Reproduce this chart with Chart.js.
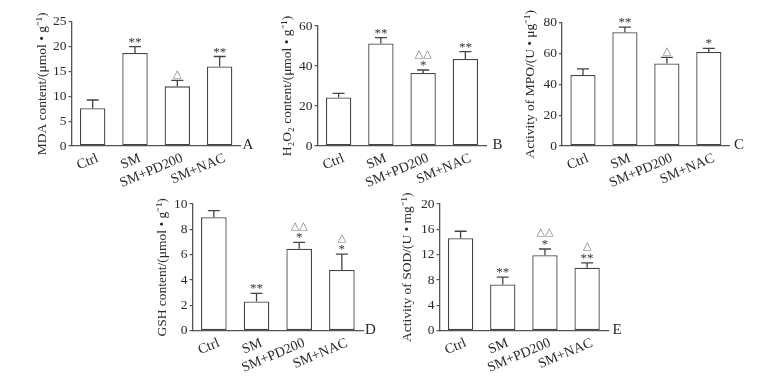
<!DOCTYPE html>
<html>
<head>
<meta charset="utf-8">
<script src="https://cdn.jsdelivr.net/npm/chart.js@4.4.0/dist/chart.umd.min.js"></script>
<style>
  body { margin: 0; background: #fff; }
  #wrap { position: relative; width: 771px; height: 382px; }
  #wrap canvas { position: absolute; left: 0; top: 0; }
</style>
</head>
<body>
<div id="wrap"></div>
<script>
// groups on every x axis
const groups = ['Ctrl', 'SM', 'SM+PD200', 'SM+NAC'];

// A - MDA
const mdaMean = [7.6, 18.7, 12.0, 16.0];
const mdaErr = [1.65, 1.3, 1.2, 2.0];
const mdaMarks = [[], ['**'], ['△'], ['**']];
const mdaTicks = [0, 5, 10, 15, 20, 25];

// B - H2O2
const h2o2Mean = [24.3, 51.3, 36.5, 43.5];
const h2o2Err = [2.0, 2.9, 1.5, 3.7];
const h2o2Marks = [[], ['**'], ['*', '△△'], ['**']];
const h2o2Ticks = [0, 20, 40, 60];

// C - MPO
const mpoMean = [46.1, 73.8, 53.6, 61.0];
const mpoErr = [3.9, 3.3, 3.9, 2.4];
const mpoMarks = [[], ['**'], ['△'], ['*']];
const mpoTicks = [0, 20, 40, 60, 80];

// D - GSH
const gshMean = [8.95, 2.3, 6.47, 4.79];
const gshErr = [0.52, 0.65, 0.5, 1.26];
const gshMarks = [[], ['**'], ['*', '△△'], ['*', '△']];
const gshTicks = [0, 2, 4, 6, 8, 10];

// E - SOD
const sodMean = [14.6, 7.3, 11.9, 9.95];
const sodErr = [1.1, 1.15, 1.0, 0.75];
const sodMarks = [[], ['**'], ['*', '△△'], ['**', '△']];
const sodTicks = [0, 4, 8, 12, 16, 20];

const FONT = '"Liberation Serif", "Times New Roman", serif';
const TEXT = '#2a2a2a';
const LINE = '#555';

// where each panel sits on the page (axis x, title x, axis end, top, zero line)
const panels = [
    { letter: 'A', title: 'MDA content/(μmol • g⁻¹)', means: mdaMean, errs: mdaErr, marks: mdaMarks, ticks: mdaTicks,
      axisX: 69.5, titleX: 42.7, right: 239.3, top: 21.7, bottom: 146, letterX: 242.5 },
    { letter: 'B', title: 'H₂O₂ content/(μmol • g⁻¹)', means: h2o2Mean, errs: h2o2Err, marks: h2o2Marks, ticks: h2o2Ticks,
      axisX: 315.5, titleX: 287.3, right: 485, top: 26, bottom: 146, letterX: 492.5 },
    { letter: 'C', title: 'Activity of MPO/(U • μg⁻¹)', means: mpoMean, errs: mpoErr, marks: mpoMarks, ticks: mpoTicks,
      axisX: 560, titleX: 530, right: 728.3, top: 22.7, bottom: 146, letterX: 734 },
    { letter: 'D', title: 'GSH content/(μmol • g⁻¹)', means: gshMean, errs: gshErr, marks: gshMarks, ticks: gshTicks,
      axisX: 190.5, titleX: 162.7, right: 361.7, top: 204, bottom: 330.7, letterX: 365 },
    { letter: 'E', title: 'Activity of SOD/(U • mg⁻¹)', means: sodMean, errs: sodErr, marks: sodMarks, ticks: sodTicks,
      axisX: 437.5, titleX: 407.7, right: 606.7, top: 204, bottom: 330.7, letterX: 612.5 },
];

const W = 771, H = 382;
const X_AXIS_H = 45;
const TITLE_SIZE = 13.5;

// error bars, significance marks and the panel letter
function makeExtras(p) {
    return {
        id: 'extras' + p.letter,
        afterDatasetsDraw(chart) {
            const ctx = chart.ctx;
            const y = chart.scales.y;
            const bars = chart.getDatasetMeta(0).data;
            ctx.save();
            p.means.forEach((m, i) => {
                const x = bars[i].x;
                const yBar = y.getPixelForValue(m);
                const yTop = y.getPixelForValue(m + p.errs[i]);
                ctx.strokeStyle = '#444';
                ctx.lineWidth = 1.3;
                ctx.beginPath();
                ctx.moveTo(x, yBar);
                ctx.lineTo(x, yTop);
                ctx.moveTo(x - 6, yTop);
                ctx.lineTo(x + 6, yTop);
                ctx.stroke();
                ctx.textAlign = 'center';
                ctx.textBaseline = 'alphabetic';
                p.marks[i].forEach((s, k) => {
                    const cy = yTop - 7.5 - k * 10;
                    if (s.indexOf('△') >= 0) {
                        ctx.font = '11px "DejaVu Sans"';
                        ctx.fillStyle = '#777';
                        ctx.fillText(s, x, cy + 4);
                    } else {
                        ctx.font = '13px ' + FONT;
                        ctx.fillStyle = '#333';
                        ctx.fillText(s, x, cy + 6.5);
                    }
                });
            });
            ctx.font = '15px ' + FONT;
            ctx.fillStyle = TEXT;
            ctx.textAlign = 'left';
            ctx.fillText(p.letter, p.letterX, chart.chartArea.bottom + 3);
            ctx.restore();
        }
    };
}

const wrap = document.getElementById('wrap');

panels.forEach(p => {
    const canvas = document.createElement('canvas');
    canvas.width = W;
    canvas.height = H;
    wrap.appendChild(canvas);

    const left = p.axisX + 2;
    const yAxisW = left - p.titleX + TITLE_SIZE * 1.2 / 2;

    new Chart(canvas, {
        type: 'bar',
        data: {
            labels: groups,
            datasets: [{
                data: p.means,
                backgroundColor: '#fff',
                borderColor: '#444',
                borderWidth: 1.3,
                borderSkipped: false,
                barPercentage: 0.6,
                categoryPercentage: 1.0,
            }]
        },
        options: {
            responsive: false,
            animation: false,
            events: [],
            layout: {
                padding: {
                    left: left - yAxisW,
                    top: p.top,
                    right: W - (p.right + 1.5),
                    bottom: H - p.bottom - X_AXIS_H
                }
            },
            plugins: {
                legend: { display: false },
                tooltip: { enabled: false }
            },
            scales: {
                x: {
                    grid: { display: false, drawTicks: false },
                    border: { display: true, color: LINE, width: 1.3 },
                    ticks: {
                        color: TEXT,
                        font: { family: FONT, size: 14 },
                        minRotation: 23,
                        maxRotation: 23,
                        autoSkip: false,
                        padding: 4,
                        labelOffset: 5
                    },
                    afterFit(scale) { scale.height = X_AXIS_H; }
                },
                y: {
                    min: p.ticks[0],
                    max: p.ticks[p.ticks.length - 1],
                    afterBuildTicks(scale) { scale.ticks = p.ticks.map(v => ({ value: v })); },
                    afterFit(scale) { scale.width = yAxisW; },
                    grid: { drawOnChartArea: false, drawTicks: true, tickLength: 3, color: LINE, lineWidth: 1.2 },
                    border: { display: true, color: LINE, width: 1.3 },
                    ticks: {
                        color: TEXT,
                        font: { family: FONT, size: 13.5 },
                        padding: 2
                    },
                    title: {
                        display: true,
                        text: p.title,
                        color: TEXT,
                        font: { family: FONT, size: TITLE_SIZE },
                        padding: 0
                    }
                }
            }
        },
        plugins: [makeExtras(p)]
    });
});
</script>
</body>
</html>
